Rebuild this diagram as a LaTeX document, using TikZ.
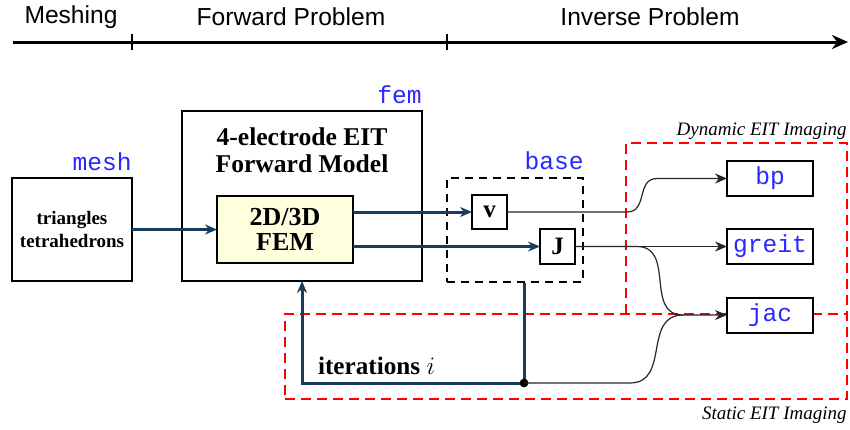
\RequirePackage{fix-cm}
\documentclass[tikz,border=0pt]{standalone}
\usepackage{fontspec}
\setmainfont{Liberation Serif}
\setsansfont{Liberation Sans}
\setmonofont{Liberation Mono}
\usetikzlibrary{arrows.meta}

\definecolor{loopblue}{RGB}{24,60,94}
\definecolor{pkgblue}{RGB}{40,40,255}
\definecolor{femfill}{RGB}{255,255,222}

\begin{document}
\begin{tikzpicture}[x=0.5pt, y=-0.5pt,
  phase/.style={font=\sffamily\fontsize{12.3}{14}\selectfont},
  pkg/.style={font=\ttfamily\fontsize{12.3}{14}\selectfont, text=pkgblue, inner sep=0pt},
  box/.style={draw, line width=1pt, fill=white, outer sep=0pt, inner sep=0pt},
  imaging/.style={draw=red, line width=1pt, dash pattern=on 5pt off 3pt, outer sep=0pt, inner sep=0pt},
  region/.style={font=\itshape\fontsize{9.5}{11}\selectfont, inner sep=0pt},
  flow/.style={draw=loopblue, line width=1.5pt, -{Stealth[length=6pt,width=5pt]}},
  link/.style={line width=0.6pt, black!85, -{Stealth[length=6pt,width=5pt]}}]
\useasboundingbox (0,0) rectangle (850,429);

% timeline
\coordinate (tstart) at (13,42);
\coordinate (tend) at (848,42);
\coordinate (tick1) at (132,42);
\coordinate (tick2) at (447,42);
\draw [line width=1.5pt, -{Stealth[length=8pt,width=7pt]}] (tstart) -- (tend);
\draw [line width=1pt] ([yshift=-4pt]tick1) -- ([yshift=4pt]tick1);
\draw [line width=1pt] ([yshift=-4pt]tick2) -- ([yshift=4pt]tick2);
\node (meshing) [phase] at (71,17) {Meshing};
\node (forward) [phase] at (291,17) {Forward Problem};
\node (inverse) [phase] at (650,17) {Inverse Problem};

% imaging regions
\node (static) [imaging, draw=red, minimum width=281pt, minimum height=42.5pt] at (566,356.5) {};
\node (dynamic) [minimum width=110.5pt, minimum height=85.5pt, outer sep=0pt] at (736.5,228.5) {};
\draw [imaging] (dynamic.south west) -- (dynamic.north west) -- (dynamic.north east) -- (dynamic.south east);
\node (staticlbl) [region, anchor=north east] at ([yshift=-4pt]static.south east) {Static EIT Imaging};
\node (dynamiclbl) [region, anchor=base east] at ([yshift=4pt]dynamic.north east) {Dynamic EIT Imaging};

% meshing
\node (mesh) [box, minimum width=60pt, minimum height=51.5pt, align=center,
  font=\bfseries\fontsize{9.5}{11.5}\selectfont] at (72,229.5) {triangles\\tetrahedrons};
\node (meshlbl) [pkg, anchor=base east] at ([yshift=4pt]mesh.north east) {mesh};

% forward model
\node (fem) [box, minimum width=120pt, minimum height=85pt] at (302,196) {};
\node (femlbl) [pkg, anchor=base east] at ([yshift=4pt]fem.north east) {fem};
\node (femtitle) [align=center, font=\bfseries\fontsize{12.8}{13.5}\selectfont] at (302,150) {4-electrode EIT\\Forward Model};
\node (solver) [box, fill=femfill, line width=0.6pt, minimum width=68pt, minimum height=33.5pt, align=center,
  font=\bfseries\fontsize{13}{12.5}\selectfont] at (285,229.5) {2D/3D\\FEM};

% base
\node (base) [draw, line width=1pt, dash pattern=on 4pt off 3pt, minimum width=68pt, minimum height=52pt] at (515,230) {};
\node (baselbl) [pkg, anchor=base east] at ([yshift=4pt]base.north east) {base};
\node (v) [box, minimum width=17.5pt, minimum height=17pt, font=\bfseries\fontsize{12.5}{13}\selectfont] at (489.5,212) {v};
\node (J) [box, minimum width=17.5pt, minimum height=17.5pt, font=\bfseries\fontsize{12.5}{13}\selectfont] at (557.5,246.5) {J};

% solvers
\node (bp) [box, pkg, minimum width=43pt, minimum height=17.5pt] at (770,178.5) {bp};
\node (greit) [box, pkg, minimum width=43pt, minimum height=17.5pt] at (770,246.5) {greit};
\node (jac) [box, pkg, minimum width=43pt, minimum height=17.5pt] at (770,315) {jac};

% forward flow
\draw [flow] (mesh.east |- solver.west) -- (solver.west);
\draw [flow] (solver.east |- v) -- (v.west);
\draw [flow] (solver.east |- J) -- (J.west);

% iterations
\coordinate (dot) at (524,383);
\draw [draw=loopblue, line width=1.5pt, -{Stealth[length=6pt,width=5pt]}] (base.south -| dot) -- (dot) -- (fem.south |- dot) -- (fem.south);
\fill (dot) circle (2.2pt);
\node (iter) [anchor=base west, font=\bfseries\fontsize{12.6}{14}\selectfont] at (311,374) {iterations $i$};

% inverse links
\coordinate (jmerge) at (683,315);
\draw [link] (v.east) -- (627,212) to[out=0, in=180, looseness=1.2] (657,178.5) -- (bp.west);
\draw [link] (J.east) -- (greit.west);
\draw [link] (J.east) -- (637,246.5) to[out=0, in=180, looseness=1.2] (jmerge) -- (jac.west);
\draw [line width=0.6pt, black!85] (dot) -- (630,383) to[out=0, in=180, looseness=1.2] (jmerge);

\end{tikzpicture}
\end{document}
